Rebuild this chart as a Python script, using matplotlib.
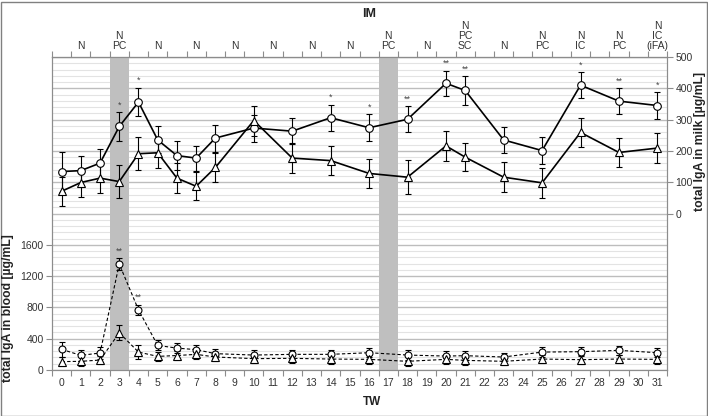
import numpy as np
import matplotlib
matplotlib.use('Agg')
import matplotlib.pyplot as plt
from matplotlib.patches import Rectangle

plt.rcParams['font.family'] = ['Liberation Sans', 'DejaVu Sans']

# weeks with measurements (TW)
tw = [0, 1, 2, 3, 4, 5, 6, 7, 8, 10, 12, 14, 16, 18, 20, 21, 23, 25, 27, 29, 31]

# IgA in milk (right axis)
milk_circ = [134, 137, 161, 278, 356, 235, 185, 177, 241, 273, 263, 306, 274, 301, 416, 393, 235, 201, 410, 359, 345]
milk_circ_err = [64, 46, 46, 46, 46, 43, 46, 40, 43, 43, 42, 42, 43, 42, 40, 45, 41, 43, 41, 41, 43]
milk_tri = [71, 99, 113, 102, 191, 194, 113, 87, 147, 297, 177, 169, 128, 116, 216, 180, 116, 98, 259, 195, 209]
milk_tri_err = [46, 46, 47, 54, 53, 48, 47, 45, 45, 48, 47, 47, 46, 55, 47, 45, 47, 48, 47, 47, 49]

# IgA in blood (left axis)
blood_circ = [264, 187, 217, 1354, 769, 314, 280, 260, 209, 191, 200, 200, 221, 191, 178, 183, 166, 229, 234, 251, 221]
blood_circ_err = [93, 68, 81, 77, 63, 64, 60, 60, 55, 60, 60, 60, 60, 60, 60, 60, 55, 60, 60, 60, 55]
blood_tri = [107, 111, 127, 476, 229, 174, 185, 200, 166, 145, 149, 140, 136, 111, 136, 123, 111, 140, 132, 140, 136]
blood_tri_err = [56, 55, 55, 93, 85, 55, 55, 55, 50, 60, 60, 60, 55, 55, 55, 55, 50, 55, 55, 55, 55]

# significance marks
milk_star_tw = [3, 4, 14, 16, 18, 20, 21, 27, 29, 31]
milk_star_txt = ['*', '*', '*', '*', '**', '**', '**', '*', '**', '*']
blood_star_tw = [3, 4]
blood_star_txt = ['**', '**']

# immunisation weeks (grey bands)
band_tw = [3, 17]

# top labels
top_tw = [1, 3, 5, 7, 9, 11, 13, 15, 17, 19, 21, 23, 25, 27, 29, 31]
top_txt = ['N', 'N\nPC', 'N', 'N', 'N', 'N', 'N', 'N', 'N\nPC', 'N', 'N\nPC\nSC', 'N',
           'N\nPC', 'N\nIC', 'N\nPC', 'N\nIC\n(iFA)']

categories = list(range(32))

W, H = 708, 416
fig = plt.figure(figsize=(W / 100, H / 100), dpi=100)
ax = fig.add_axes([52 / W, (H - 370) / H, 615 / W, 313 / H])
ax2 = ax.twinx()

tcol = '#333333'
scol = '#8c8c8c'

ax.set_xlim(-0.5, 31.5)
ax.set_ylim(0, 4000)
ax2.set_ylim(-500, 500)

# grid lines (major every 400 / 100, minor 5 per major)
for v in np.arange(0, 4001, 80):
    if v % 400 == 0:
        ax.axhline(v, color='#bdbdbd', lw=1.0, zorder=0)
    else:
        ax.axhline(v, color='#e3e3e3', lw=0.8, zorder=0)

for b in band_tw:
    ax.axvspan(b - 0.5, b + 0.5, color='#bfbfbf', lw=0, zorder=1)

# blood series
mk = dict(mfc='white', mec='black', mew=0.8)
ax.errorbar(tw, blood_circ, yerr=blood_circ_err, fmt='o', ms=5, color='black', ls=(0, (3, 2)),
            lw=0.8, elinewidth=0.8, capsize=2, capthick=0.8, zorder=3, **mk)
ax.errorbar(tw, blood_tri, yerr=blood_tri_err, fmt='^', ms=5.5, color='black', ls=(0, (3, 2)),
            lw=0.8, elinewidth=0.8, capsize=2, capthick=0.8, zorder=3, **mk)

# milk series
ax2.errorbar(tw, milk_circ, yerr=milk_circ_err, fmt='o', ms=5.5, color='black', ls='-',
             lw=1.2, elinewidth=0.8, capsize=2, capthick=0.8, zorder=3, **mk)
ax2.errorbar(tw, milk_tri, yerr=milk_tri_err, fmt='^', ms=6, color='black', ls='-',
             lw=1.2, elinewidth=0.8, capsize=2, capthick=0.8, zorder=3, **mk)

for t, s in zip(milk_star_tw, milk_star_txt):
    i = tw.index(t)
    ax2.annotate(s, (t, milk_circ[i] + milk_circ_err[i]), xytext=(0, 2), textcoords='offset points',
                 ha='center', va='bottom', fontsize=6.5, color='#444444')
for t, s in zip(blood_star_tw, blood_star_txt):
    i = tw.index(t)
    ax.annotate(s, (t, blood_circ[i] + blood_circ_err[i]), xytext=(0, 2), textcoords='offset points',
                ha='center', va='bottom', fontsize=6.5, color='#444444')

# axes styling
for a in (ax, ax2):
    for sp in a.spines.values():
        sp.set_color(scol)
        sp.set_linewidth(0.8)

ax.set_xticks(categories)
ax.set_xticklabels([str(c) for c in categories], fontsize=7.5, color=tcol)
ax.set_xticks(np.arange(-0.5, 32, 1), minor=True)
ax.tick_params(axis='x', which='major', length=0, pad=6)
ax.tick_params(axis='x', which='minor', length=4, color=scol, width=0.8)

ax.set_yticks([0, 400, 800, 1200, 1600])
ax.tick_params(axis='y', length=4, color=scol, width=0.8, labelsize=7.5, labelcolor=tcol, pad=2)
ax2.set_yticks([0, 100, 200, 300, 400, 500])
ax2.tick_params(axis='y', length=4, color=scol, width=0.8, labelsize=7.5, labelcolor=tcol, pad=2)

top = ax.secondary_xaxis('top')
top.set_xticks(top_tw)
top.set_xticklabels(top_txt, fontsize=7.5, color=tcol, linespacing=1.0)
top.set_xticks(np.arange(-0.5, 32, 1), minor=True)
top.tick_params(axis='x', which='major', length=0, pad=4)
top.tick_params(axis='x', which='minor', length=4, color=scol, width=0.8)
top.spines['top'].set_color(scol)

fig.text(8 / W, 1 - 308 / H, 'total IgA in blood [µg/mL]', rotation=90, ha='center', va='center',
         fontsize=8.8, fontweight='bold', color='#222222')
fig.text(700 / W, 1 - 141 / H, 'total IgA in milk [µg/mL]', rotation=90, ha='center', va='center',
         fontsize=8.8, fontweight='bold', color='#222222')
fig.text(369 / W, 1 - 14 / H, 'IM', ha='center', va='center', fontsize=9, fontweight='bold', color='#222222')
fig.text(372 / W, 1 - 402 / H, 'TW', ha='center', va='center', fontsize=8.5, fontweight='bold', color='#222222')

fig.patches.append(Rectangle((0.5 / W, 0.5 / H), 1 - 2 / W, 1 - 2 / H, transform=fig.transFigure,
                             fill=False, ec='#808080', lw=1.0))

fig.savefig('out.png', dpi=100)
